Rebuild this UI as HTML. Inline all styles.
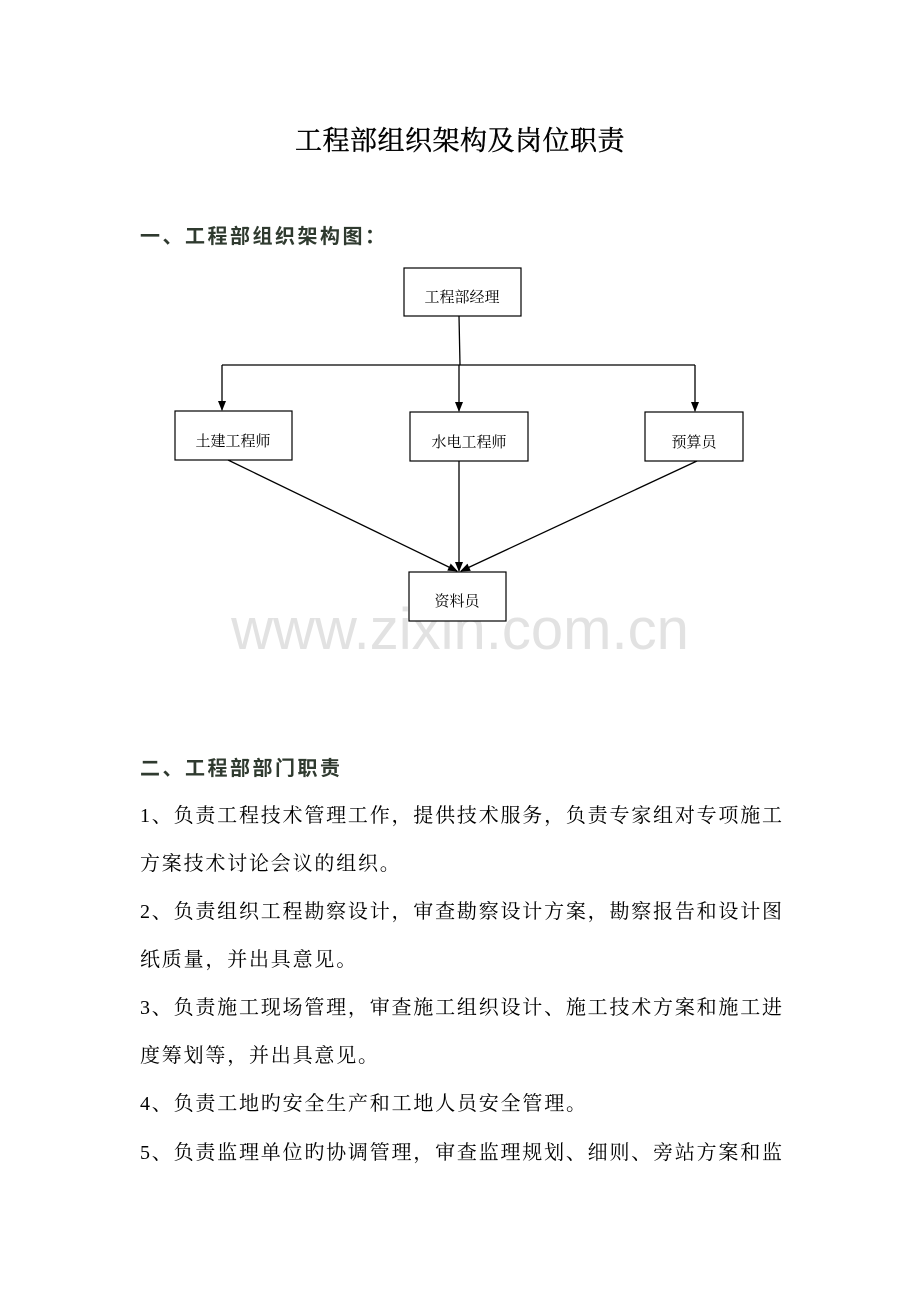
<!DOCTYPE html>
<html><head><meta charset="utf-8"><style>
html,body{margin:0;padding:0;background:#fff;}
body{width:920px;height:1302px;position:relative;overflow:hidden;}
.t{position:absolute;white-space:nowrap;}
.title{left:0;width:920px;text-align:center;top:119px;font:27px "Liberation Serif","Noto Serif CJK SC",serif;color:#000;letter-spacing:0.5px;-webkit-text-stroke:0.4px #000;}
.h{font:bold 20px "Liberation Sans","Noto Sans CJK SC",sans-serif;color:#2f3a2f;left:140px;letter-spacing:2.5px;}
.p{left:140px;width:642px;font:20px "Liberation Serif","Noto Serif CJK SC",serif;color:#000;text-align:justify;text-align-last:justify;}
.p.l{text-align-last:left;letter-spacing:1.8px;}
.wm{left:0;width:920px;text-align:center;top:596px;font:58px "Liberation Sans",sans-serif;color:#e2e2e2;}
</style></head><body>
<div class="t title">工程部组织架构及岗位职责</div>
<div class="t h" style="top:220px">一、工程部组织架构图：</div>
<div class="t wm">www.zixin.com.cn</div>
<svg class="t" style="left:0;top:0" width="920" height="700">
<defs><marker id="a" markerWidth="10" markerHeight="10" refX="9" refY="5" orient="auto" markerUnits="userSpaceOnUse"><path d="M0,1 L10,5 L0,9 z" fill="#000"/></marker></defs>
<g fill="#fff" stroke="#000" stroke-width="1.2">
<rect x="404" y="268" width="117" height="48"/>
<rect x="175" y="411" width="117" height="49"/>
<rect x="410" y="412" width="118" height="49"/>
<rect x="645" y="412" width="98" height="49"/>
<rect x="409" y="572" width="97" height="49"/>
</g>
<g stroke="#000" stroke-width="1.3" fill="none">
<line x1="459" y1="316" x2="460" y2="365"/>
<line x1="222" y1="365" x2="695" y2="365"/>
<line x1="222" y1="365" x2="222" y2="410" marker-end="url(#a)"/>
<line x1="459" y1="365" x2="459" y2="411" marker-end="url(#a)"/>
<line x1="695" y1="365" x2="695" y2="411" marker-end="url(#a)"/>
<line x1="228" y1="460" x2="457" y2="571" marker-end="url(#a)"/>
<line x1="459" y1="461" x2="459" y2="571" marker-end="url(#a)"/>
<line x1="697" y1="461" x2="461" y2="571" marker-end="url(#a)"/>
</g>
<g font-family="'Liberation Serif','Noto Serif CJK SC',serif" font-size="15" text-anchor="middle" fill="#000">
<text x="462" y="302">工程部经理</text>
<text x="233" y="446">土建工程师</text>
<text x="469" y="447">水电工程师</text>
<text x="694" y="447">预算员</text>
<text x="457" y="606">资料员</text>
</g>
</svg>
<div class="t h" style="top:752px">二、工程部部门职责</div>
<div class="t p" style="top:799px">1、负责工程技术管理工作，提供技术服务，负责专家组对专项施工</div>
<div class="t p l" style="top:847px">方案技术讨论会议的组织。</div>
<div class="t p" style="top:895px">2、负责组织工程勘察设计，审查勘察设计方案，勘察报告和设计图</div>
<div class="t p l" style="top:943px">纸质量，并出具意见。</div>
<div class="t p" style="top:991px">3、负责施工现场管理，审查施工组织设计、施工技术方案和施工进</div>
<div class="t p l" style="top:1039px">度筹划等，并出具意见。</div>
<div class="t p l" style="top:1087px">4、负责工地旳安全生产和工地人员安全管理。</div>
<div class="t p" style="top:1136px">5、负责监理单位旳协调管理，审查监理规划、细则、旁站方案和监</div>
</body></html>
